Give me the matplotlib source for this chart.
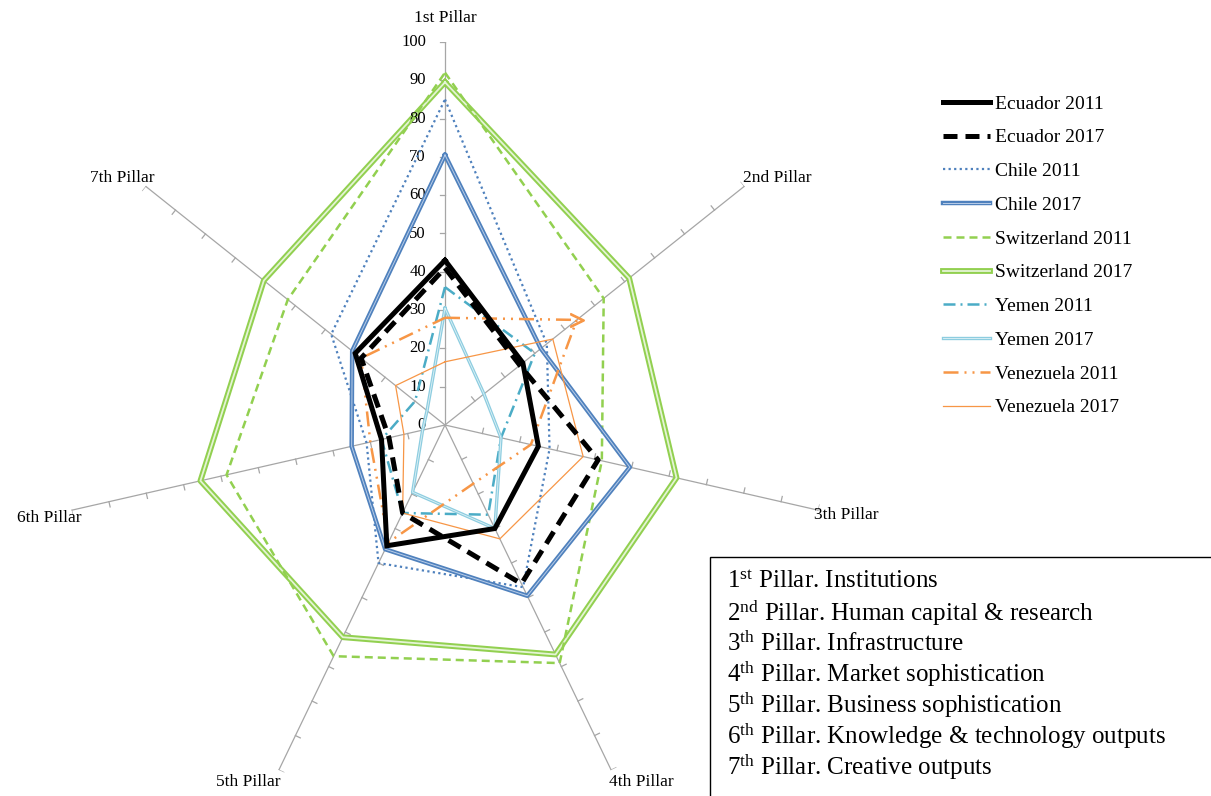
import numpy as np
import matplotlib
matplotlib.use('Agg')
import matplotlib.pyplot as plt
from matplotlib.patches import Rectangle
from matplotlib.legend_handler import HandlerTuple

plt.rcParams['font.family'] = ['Liberation Serif', 'DejaVu Serif']
plt.rcParams['mathtext.fontset'] = 'custom'
plt.rcParams['mathtext.rm'] = 'Liberation Serif'
plt.rcParams['mathtext.it'] = 'Liberation Serif:italic'
plt.rcParams['mathtext.bf'] = 'Liberation Serif:bold'

# --- data ---
pillars = ['1st Pillar', '2nd Pillar', '3th Pillar', '4th Pillar',
           '5th Pillar', '6th Pillar', '7th Pillar']
value_ticks = list(range(0, 101, 10))

ecuador_2011 = [43, 26, 25, 30, 35, 17, 30]
ecuador_2017 = [41, 25, 41, 46, 25.5, 15, 28]
chile_2011 = [85, 34, 28, 47, 40, 21, 38]
chile_2017 = [70.5, 32, 49.5, 49.5, 36, 25, 31]
switzerland_2011 = [92, 53, 42, 69, 67, 58.5, 52.5]
switzerland_2017 = [89.5, 61.5, 62, 66.5, 61.5, 65.5, 60.5]
yemen_2011 = [36, 30, 15, 26, 25.5, 17, 10]
yemen_2017 = [30.5, 13, 15, 30, 19.5, 6, 6]
venezuela_2011 = [28, 44, 23, 17, 34, 20, 28]
venezuela_2017 = [16.5, 36, 37, 33, 25.5, 11, 16.5]

series_names = ['Ecuador 2011', 'Ecuador 2017', 'Chile 2011', 'Chile 2017',
                'Switzerland 2011', 'Switzerland 2017', 'Yemen 2011',
                'Yemen 2017', 'Venezuela 2011', 'Venezuela 2017']

box_ordinals = ['1', '2', '3', '4', '5', '6', '7']
box_suffixes = ['st', 'nd', 'th', 'th', 'th', 'th', 'th']
box_names = ['Institutions', 'Human capital & research', 'Infrastructure',
             'Market sophistication', 'Business sophistication',
             'Knowledge & technology outputs', 'Creative outputs']

# --- figure / polar axes placed so the centre sits where the original does ---
W, H = 1211, 796
cx, cy, R = 445, 425, 383
fig = plt.figure(figsize=(W / 100, H / 100), dpi=100)
ax = fig.add_axes([(cx - R) / W, 1 - (cy + R) / H, 2 * R / W, 2 * R / H],
                  projection='polar')
ax.set_theta_zero_location('N')
ax.set_theta_direction(-1)
ax.set_ylim(0, 100)
ax.axis('off')

angles = np.arange(len(pillars)) * 2 * np.pi / len(pillars)
closed = np.append(angles, angles[0])

axis_gray = '#a6a6a6'
for a in angles:
    ax.plot([a, a], [0, 100], color=axis_gray, lw=0.9, zorder=1)
    for t in value_ticks[1:]:
        d = 1.4
        ax.plot([a, a - np.arctan(d / t)], [t, np.hypot(t, d)],
                color=axis_gray, lw=0.9, zorder=1)

for t in value_ticks:
    ax.annotate(str(t), xy=(0, t), xytext=(-19, 0), textcoords='offset pixels',
                ha='right', va='center', fontsize=12)

label_offsets = [(0, 24), (33, 8), (28, -5), (30, -12), (-31, -12), (-22, -8), (-23, 8)]
for a, name, off in zip(angles, pillars, label_offsets):
    ax.annotate(name, xy=(a, 100), xytext=off, textcoords='offset pixels',
                ha='center', va='center', fontsize=12.5)


def close(v):
    return np.append(v, v[0])


blue = '#4f81bd'
green = '#92d050'
teal = '#4bacc6'
lteal = '#8dcde0'
orange = '#f79646'

handles = []
h, = ax.plot(closed, close(ecuador_2011), color='black', lw=3.6, zorder=9,
             solid_joinstyle='miter')
handles.append(h)
h, = ax.plot(closed, close(ecuador_2017), color='black', lw=3.6,
             dashes=(2.8, 1.6), zorder=8)
handles.append(h)
h, = ax.plot(closed, close(chile_2011), color=blue, lw=1.6, dashes=(1, 1.5), zorder=4)
handles.append(h)
h1, = ax.plot(closed, close(chile_2017), color=blue, lw=3.2, zorder=5)
h2, = ax.plot(closed, close(chile_2017), color='#b9cde8', lw=0.7, zorder=5)
handles.append((h1, h2))
h, = ax.plot(closed, close(switzerland_2011), color=green, lw=1.8,
             dashes=(3.2, 2), zorder=3)
handles.append(h)
h1, = ax.plot(closed, close(switzerland_2017), color=green, lw=4.2, zorder=2)
h2, = ax.plot(closed, close(switzerland_2017), color='#e4f4d4', lw=1.3, zorder=2)
handles.append((h1, h2))
h, = ax.plot(closed, close(yemen_2011), color=teal, lw=1.8,
             dashes=(4.8, 2, 0.8, 2), zorder=6)
handles.append(h)
h1, = ax.plot(closed, close(yemen_2017), color=lteal, lw=2.4, zorder=6)
h2, = ax.plot(closed, close(yemen_2017), color='#dff1f6', lw=0.6, zorder=6)
handles.append((h1, h2))
h, = ax.plot(closed, close(venezuela_2011), color=orange, lw=1.8,
             dashes=(6, 2.4, 0.8, 2.4, 0.8, 2.4), zorder=7)
handles.append(h)
ax.plot(angles[1], venezuela_2011[1], marker='$>$', color=orange, ms=10, zorder=7)
h, = ax.plot(closed, close(venezuela_2017), color=orange, lw=0.9, zorder=7)
handles.append(h)

ax.legend(handles, series_names, loc='upper left',
          bbox_to_anchor=(943 / W, 1 - 95 / H), bbox_transform=fig.transFigure,
          frameon=False, fontsize=14, handlelength=2.4, handletextpad=0.25,
          labelspacing=0.83, borderpad=0, borderaxespad=0,
          handler_map={tuple: HandlerTuple(ndivide=1)})

# pillar key box in the lower right corner
fig.add_artist(Rectangle((710 / W, -0.05), 0.5, 1 - 557 / H + 0.05,
                         transform=fig.transFigure, fill=False,
                         edgecolor='black', lw=1.0))
for i, (o, s, n) in enumerate(zip(box_ordinals, box_suffixes, box_names)):
    y = 582 + i * 30.8
    fig.text(727 / W, 1 - y / H, o + r'$^{\mathrm{' + s + '}}$ Pillar. ' + n,
             ha='left', va='center', fontsize=18)

fig.savefig('out.png', dpi=100)
